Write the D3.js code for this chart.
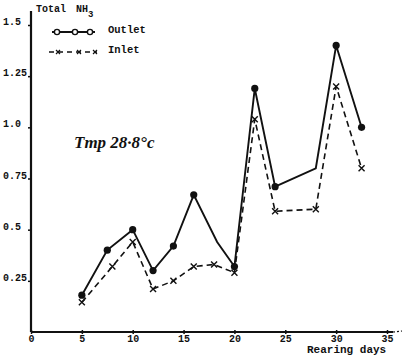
<!DOCTYPE html>
<html><head><meta charset="utf-8">
<script src="https://cdn.jsdelivr.net/npm/d3@7"></script>
<style>
html,body{margin:0;padding:0;background:#fff;}
svg{display:block;}
text{font-family:"Liberation Mono","DejaVu Sans Mono",monospace;font-weight:bold;fill:#111;}
</style></head>
<body>
<svg id="c" width="409" height="357"></svg>
<script>
const outletDays   = [5, 7.5, 10, 12, 14, 16, 18.3, 20, 22, 24, 28, 30, 32.5];
const outletValues = [0.18, 0.40, 0.50, 0.30, 0.42, 0.67, 0.44, 0.32, 1.19, 0.71, 0.80, 1.40, 1.00];
const outletMarked = [true, true, true, true, true, true, false, true, true, true, false, true, true];
const inletDays    = [5, 8, 10, 12, 14, 16, 18, 20, 22, 24, 28, 30, 32.5];
const inletValues  = [0.145, 0.32, 0.44, 0.21, 0.25, 0.32, 0.33, 0.29, 1.04, 0.59, 0.60, 1.20, 0.80];
const xTicks = [0, 5, 10, 15, 20, 25, 30, 35];
const yTicks = [0.25, 0.5, 0.75, 1.0, 1.25, 1.5];
const yTickLabels = ["0.25", "0.5", "0.75", "1.0", "1.25", "1.5"];
const legendNames = ["Outlet", "Inlet"];

const svg = d3.select("#c");
const x = d3.scaleLinear().domain([0, 35]).range([31, 387]);
const y = d3.scaleLinear().domain([0, 1.5]).range([332, 25]);
const ink = "#111";

// axes lines
svg.append("line").attr("x1", x(0)).attr("x2", x(0)).attr("y1", 11).attr("y2", y(0))
  .attr("stroke", ink).attr("stroke-width", 2.2);
svg.append("line").attr("x1", x(0)).attr("x2", x(35) + 6).attr("y1", y(0)).attr("y2", y(0))
  .attr("stroke", ink).attr("stroke-width", 2.2);
svg.append("line").attr("x1", x(35) + 6).attr("x2", x(35) + 15).attr("y1", y(0)).attr("y2", y(0) - 1)
  .attr("stroke", ink).attr("stroke-width", 1.2).attr("stroke-dasharray", "2,2");

// x axis
const xa = svg.append("g").attr("transform", `translate(0,${y(0)})`)
  .call(d3.axisBottom(x).tickValues(xTicks).tickSize(3).tickFormat(d3.format("d")));
xa.select(".domain").remove();
xa.selectAll(".tick line").attr("stroke", ink).attr("stroke-width", 1.5).attr("y1", -2).attr("y2", 2);
xa.selectAll(".tick text").attr("y", 3).attr("font-size", 10)
  .style("font-family", '"Liberation Mono",monospace').style("font-weight", "bold");

// y axis
const ya = svg.append("g").attr("transform", `translate(${x(0)},0)`)
  .call(d3.axisLeft(y).tickValues(yTicks).tickSize(3).tickFormat((d, i) => yTickLabels[i]));
ya.select(".domain").remove();
ya.selectAll(".tick line").attr("stroke", ink).attr("stroke-width", 1.5).attr("x1", -3).attr("x2", 1);
ya.selectAll(".tick text").attr("text-anchor", "start").attr("x", -28).attr("dy", "-0.05em")
  .attr("font-size", 10)
  .style("font-family", '"Liberation Mono",monospace').style("font-weight", "bold");

// axis titles
const t = svg.append("text").attr("x", 36).attr("y", 12).attr("font-size", 10);
t.append("tspan").text("Total ");
t.append("tspan").attr("dx", 4).text("NH");
t.append("tspan").attr("dy", 5).attr("font-size", 9).text("3");
svg.append("text").attr("x", 307).attr("y", 353).attr("font-size", 11).text("Rearing days");

// handwritten annotation
svg.append("text").attr("x", 74).attr("y", 148)
  .style("font-family", '"Liberation Serif",serif').style("font-style", "italic").style("font-weight", "bold")
  .attr("font-size", 17).text("Tmp  28·8°c");

// lines
const outlet = outletDays.map((d, i) => ({ d, v: outletValues[i], m: outletMarked[i] }));
const inlet = inletDays.map((d, i) => ({ d, v: inletValues[i] }));
const line = d3.line().x(p => x(p.d)).y(p => y(p.v));

svg.append("path").datum(inlet).attr("d", line).attr("fill", "none")
  .attr("stroke", ink).attr("stroke-width", 1.6).attr("stroke-dasharray", "6,4");
svg.append("path").datum(outlet).attr("d", line).attr("fill", "none")
  .attr("stroke", ink).attr("stroke-width", 1.9);

svg.selectAll(".om").data(outlet.filter(p => p.m)).enter().append("circle")
  .attr("cx", p => x(p.d)).attr("cy", p => y(p.v)).attr("r", 3.6).attr("fill", ink);

const cross = svg.selectAll(".im").data(inlet).enter().append("g")
  .attr("transform", p => `translate(${x(p.d)},${y(p.v)})`);
cross.append("path").attr("d", "M-3,-3L3,3M3,-3L-3,3").attr("stroke", ink).attr("stroke-width", 1.4);

// legend
const lg = svg.append("g");
lg.append("line").attr("x1", 52).attr("x2", 95).attr("y1", 32).attr("y2", 32)
  .attr("stroke", ink).attr("stroke-width", 1.9);
[57, 75, 90].forEach(cx => lg.append("circle").attr("cx", cx).attr("cy", 32).attr("r", 2.6)
  .attr("fill", "#fff").attr("stroke", ink).attr("stroke-width", 1.4));
lg.append("line").attr("x1", 49).attr("x2", 97).attr("y1", 52).attr("y2", 52)
  .attr("stroke", ink).attr("stroke-width", 1.5).attr("stroke-dasharray", "5,4");
[58, 79, 95].forEach(cx => lg.append("path").attr("d", `M${cx - 2},${50}L${cx + 2},${54}M${cx + 2},${50}L${cx - 2},${54}`)
  .attr("stroke", ink).attr("stroke-width", 1.2));
lg.selectAll(".lt").data(legendNames).enter().append("text")
  .attr("x", 108).attr("y", (d, i) => 33 + i * 20).attr("font-size", 10.5).text(d => d);
</script>
</body></html>
